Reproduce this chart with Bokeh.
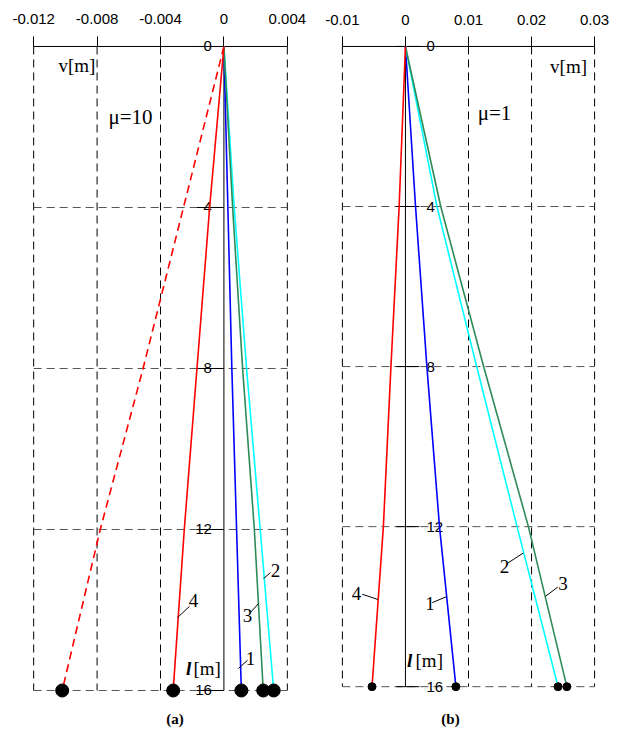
from bokeh.plotting import figure
from bokeh.layouts import row
from bokeh.models import Range1d, FixedTicker, CustomJSTickFormatter
from bokeh.core.properties import value
from bokeh.embed import file_html
from bokeh.resources import INLINE

# ---------------- data ----------------
l_pts = [0, 4, 8, 12, 16]          # l [m]
l_ticks = [0, 4, 8, 12, 16]

# panel (a)  mu = 10
a_xticks = [-0.012, -0.008, -0.004, 0, 0.004]
a_v1 = [0, 0.00025, 0.0005, 0.0008, 0.0011]
a_v2 = [0, 0.00065, 0.00143, 0.00229, 0.00314]
a_v3 = [0, 0.00055, 0.00118, 0.00192, 0.00248]
a_v4 = [0, -0.0009, -0.0017, -0.0025, -0.0032]
a_v4_dashed = [0, -0.00255, -0.0051, -0.0078, -0.0102]

# panel (b)  mu = 1
b_xticks = [-0.01, 0, 0.01, 0.02, 0.03]
b_v1 = [0, 0.0016, 0.0034, 0.0054, 0.0080]
b_v2 = [0, 0.0050, 0.0113, 0.0177, 0.0242]
b_v3 = [0, 0.0056, 0.0124, 0.0195, 0.0256]
b_v4 = [0, -0.0010, -0.0023, -0.0035, -0.0053]

curve_names = ["1", "2", "3", "4"]
colors = {"1": "#0000ff", "2": "#00ffff", "3": "#2e8b57", "4": "#ff0000"}

# label anchors (data coords)
a_lab = {"4": (-0.00192, 13.76), "3": (0.00149, 14.14), "2": (0.00325, 13.02), "1": (0.00168, 15.21)}
a_lead = {"4": ((-0.00293, 14.19), (-0.00217, 13.91)),
          "3": ((0.00168, 14.06), (0.00218, 13.84)),
          "2": ((0.0025, 13.22), (0.00294, 13.07)),
          "1": ((0.00092, 15.45), (0.00149, 15.25))}
b_lab = {"4": (-0.00776, 13.66), "1": (0.0039, 13.93), "2": (0.01572, 12.99), "3": (0.025, 13.42)}
b_lead = {"4": ((-0.00685, 13.69), (-0.00438, 13.82)),
          "1": ((0.00425, 13.90), (0.00652, 13.75)),
          "2": ((0.01624, 12.91), (0.01868, 12.66)),
          "3": ((0.02222, 13.74), (0.02417, 13.51))}

SANS = value("Liberation Sans")
SERIF = value("Liberation Serif")

fmt = CustomJSTickFormatter(code="""
if (Math.abs(tick) < 1e-12) return "0";
return String(parseFloat(tick.toFixed(4)));
""")


def make_panel(xr, yr, fw, fh, bl, br, bt, xticks, series, dashed, lab, lead,
               dot_size, mu_text, mu_pos, v_pos, lm_pos, cap_text, cap_pos,
               ytick_side, standoff):
    p = figure(width=bl + fw + br, height=bt + fh, min_border_left=bl, min_border_right=br,
               min_border_top=bt, min_border_bottom=0,
               x_range=Range1d(*xr), y_range=Range1d(*yr),
               x_axis_location="above", y_axis_location=None,
               output_backend="svg", toolbar_location=None)
    p.outline_line_color = None
    p.grid.visible = False
    ax = p.xaxis[0]
    ax.ticker = FixedTicker(ticks=xticks)
    ax.formatter = fmt
    ax.axis_line_color = None
    ax.major_tick_in = 10
    ax.major_tick_out = 0
    ax.major_tick_line_color = "black"
    ax.minor_tick_line_color = None
    ax.major_label_text_font = "Liberation Sans"
    ax.major_label_text_font_size = "15px"
    ax.major_label_text_color = "black"
    ax.major_label_standoff = standoff

    pxu = fw / (xr[1] - xr[0])
    x0, x1 = xticks[0], xticks[-1]
    lmax = l_ticks[-1]

    # grid
    vx = [t for t in xticks if t != 0]
    p.segment(x0=vx, y0=[0] * len(vx), x1=vx, y1=[lmax] * len(vx),
              line_color="black", line_width=1, line_dash="8 5")
    hy = l_ticks[1:]
    p.segment(x0=[x0] * len(hy), y0=hy, x1=[x1] * len(hy), y1=hy,
              line_color="#555555", line_width=1, line_dash="8 5")
    # axes lines
    p.segment(x0=[x0], y0=[0], x1=[x1], y1=[0], line_color="black", line_width=1)
    p.segment(x0=[0], y0=[0], x1=[0], y1=[lmax], line_color="black", line_width=1)

    # l ticks and labels
    if ytick_side == "left":
        tx0, tx1 = -27 / pxu, 0
        p.segment(x0=[tx0] * len(l_ticks), y0=l_ticks, x1=[tx1] * len(l_ticks), y1=l_ticks,
                  line_color="black", line_width=1)
        p.text(x=[0] * len(l_ticks), y=l_ticks, text=[str(t) for t in l_ticks],
               x_offset=-12, text_align="right", text_baseline="middle",
               text_font=SANS, text_font_size="15px", text_color="black")
    else:
        tx0, tx1 = -9 / pxu, 14 / pxu
        p.segment(x0=[tx0] * len(l_ticks), y0=l_ticks, x1=[tx1] * len(l_ticks), y1=l_ticks,
                  line_color="black", line_width=1)
        p.text(x=[0] * len(l_ticks), y=l_ticks, text=[str(t) for t in l_ticks],
               x_offset=21, text_align="left", text_baseline="middle",
               text_font=SANS, text_font_size="15px", text_color="black")

    # curves
    if dashed is not None:
        p.line(x=dashed, y=l_pts, line_color="#ff0000", line_width=1.6, line_dash="8 5")
    for name in curve_names:
        p.line(x=series[name], y=l_pts, line_color=colors[name], line_width=1.6)
    ends = [series[n][-1] for n in curve_names]
    if dashed is not None:
        ends.append(dashed[-1])
    p.scatter(x=ends, y=[l_pts[-1]] * len(ends), size=dot_size, color="black")

    # curve labels with leaders
    p.segment(x0=[lead[n][0][0] for n in curve_names], y0=[lead[n][0][1] for n in curve_names],
              x1=[lead[n][1][0] for n in curve_names], y1=[lead[n][1][1] for n in curve_names],
              line_color="black", line_width=1)
    p.text(x=[lab[n][0] for n in curve_names], y=[lab[n][1] for n in curve_names],
           text=curve_names, text_align="center", text_baseline="middle",
           text_font=SERIF, text_font_size="19px", text_color="black")

    # annotations
    p.text(x=[mu_pos[0]], y=[mu_pos[1]], text=[mu_text], text_align="center",
           text_baseline="middle", text_font=SERIF, text_font_size="21px", text_color="black")
    p.text(x=[v_pos[0]], y=[v_pos[1]], text=["v[m]"], text_align="center",
           text_baseline="middle", text_font=SERIF, text_font_size="19px", text_color="black")
    p.text(x=[lm_pos[0]], y=[lm_pos[2]], text=["l"], text_align="center",
           text_baseline="middle", text_font=SERIF, text_font_style="bold italic",
           text_font_size="19px", text_color="black")
    p.text(x=[lm_pos[1]], y=[lm_pos[2]], text=["[m]"], text_align="left",
           text_baseline="middle", text_font=SERIF, text_font_size="19px", text_color="black")
    p.text(x=[cap_pos[0]], y=[cap_pos[1]], text=[cap_text], text_align="center",
           text_baseline="middle", text_font=SERIF, text_font_style="bold",
           text_font_size="15px", text_color="black")
    return p


pa = make_panel(xr=(-0.0122, 0.0042), yr=(16.969, -0.2484), fw=260, fh=693,
                bl=30, br=20, bt=36, xticks=a_xticks,
                series={"1": a_v1, "2": a_v2, "3": a_v3, "4": a_v4}, dashed=a_v4_dashed,
                lab=a_lab, lead=a_lead, dot_size=13, mu_text="μ=10", mu_pos=(-0.00589, 1.76),
                v_pos=(-0.00927, 0.47), lm_pos=(-0.00223, -0.00192, 15.46),
                cap_text="(a)", cap_pos=(-0.00308, 16.72), ytick_side="left", standoff=13)

pb = make_panel(xr=(-0.0103, 0.0303), yr=(17.070, -0.2488), fw=256, fh=696,
                bl=30, br=20, bt=33, xticks=b_xticks,
                series={"1": b_v1, "2": b_v2, "3": b_v3, "4": b_v4}, dashed=None,
                lab=b_lab, lead=b_lead, dot_size=8, mu_text="μ=1", mu_pos=(0.01413, 1.67),
                v_pos=(0.02587, 0.50), lm_pos=(0.00065, 0.00160, 15.35),
                cap_text="(b)", cap_pos=(0.00715, 16.80), ytick_side="right", standoff=12)

layout = row(pa, pb)
open("out.html", "w").write(file_html(layout, INLINE))
